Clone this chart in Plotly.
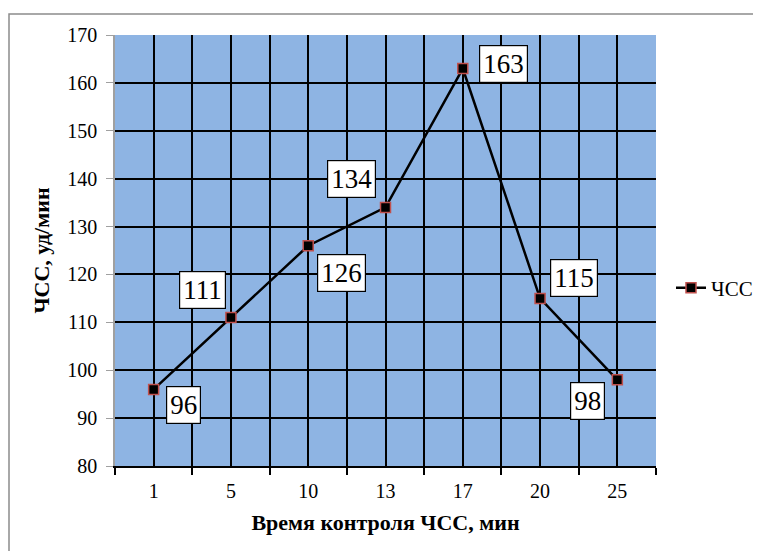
import plotly.graph_objects as go

categories = ["1", "5", "10", "13", "17", "20", "25"]
hr_values = [96, 111, 126, 134, 163, 115, 98]
series_name = "ЧСС"
# label offsets (pixels) for each data label
label_dx = [30, -28, 33, -34, 41, 34, -30]
label_dy = [-16, 28, -27, 28, 5, 20, -21]

xpos = list(range(len(categories)))
serif = "Liberation Serif"

OFF = 8  # page body margin
W, H = 761, 551
L, T = 115 - OFF, 35 - OFF
R = W - (656 - OFF)
B = H - (466 - OFF)
pw, ph = W - L - R, H - T - B

fig = go.Figure()
fig.add_trace(go.Scatter(
    x=xpos, y=hr_values, mode="lines+markers", name=series_name,
    line=dict(color="black", width=2.5),
    marker=dict(symbol="square", size=10, color="black",
                line=dict(color="#C0504D", width=1.5)),
))

for x, y, dx, dy in zip(xpos, hr_values, label_dx, label_dy):
    fig.add_annotation(x=x, y=y, text=str(y), showarrow=False,
                       xshift=dx, yshift=dy,
                       font=dict(family=serif, size=27, color="black"),
                       bgcolor="white", bordercolor="black", borderwidth=1.2,
                       borderpad=3)

def px_x(p):
    return (p - OFF - L) / pw

def px_y(p):
    return (H - B - (p - OFF)) / ph

fig.add_shape(type="rect", xref="paper", yref="paper",
              x0=px_x(9), x1=px_x(790), y0=px_y(600), y1=px_y(14),
              line=dict(color="#8c8c8c", width=1.5), fillcolor="rgba(0,0,0,0)",
              layer="below")

fig.update_layout(
    width=W, height=H,
    margin=dict(l=L, r=R, t=T, b=B, autoexpand=False),
    paper_bgcolor="white",
    plot_bgcolor="#8EB4E3",
    font=dict(family=serif, color="black", size=20),
    showlegend=True,
    legend=dict(x=px_x(671), y=px_y(288), xanchor="left", yanchor="middle",
                font=dict(family=serif, size=21, color="black"),
                bgcolor="rgba(0,0,0,0)",
                itemwidth=30, tracegroupgap=0),
    xaxis=dict(
        range=[-0.5, len(categories) - 0.5],
        tickmode="array", tickvals=xpos, ticktext=categories,
        ticks="", showgrid=True, gridcolor="black", gridwidth=1.5,
        showline=True, linecolor="black", linewidth=1.5,
        zeroline=False, ticklabelstandoff=6,
        minor=dict(tick0=-0.5, dtick=1, ticks="outside", ticklen=7,
                   tickcolor="black", tickwidth=1.5,
                   showgrid=True, gridcolor="black", gridwidth=1.5),
        title=dict(text="<b>Время контроля ЧСС, мин</b>",
                   font=dict(family=serif, size=22), standoff=14),
        tickfont=dict(family=serif, size=20, color="black"),
    ),
    yaxis=dict(
        range=[80, 170], dtick=10, tick0=80,
        showgrid=True, gridcolor="black", gridwidth=1.5,
        ticks="outside", ticklen=7, tickcolor="#a0a0a0",
        showline=True, linecolor="#a0a0a0", linewidth=1.5,
        zeroline=False, ticklabelstandoff=5,
        title=dict(text="<b>ЧСС, уд/мин</b>",
                   font=dict(family=serif, size=22), standoff=12),
        tickfont=dict(family=serif, size=20, color="black"),
    ),
)

fig.write_html("out.html")
